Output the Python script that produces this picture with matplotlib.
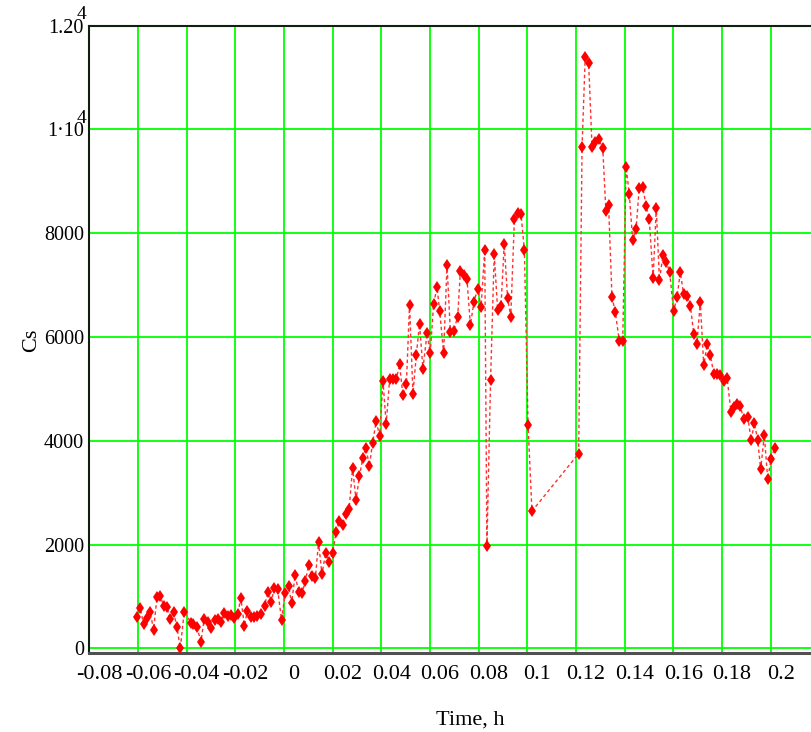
" Cs versus time, Mathcad-style scatter with dotted connecting line "
import matplotlib
matplotlib.use("Agg")
import matplotlib.pyplot as plt
import matplotlib.transforms as mtransforms

plt.rcParams.update({'font.size': 16,
                     'font.family': ['Liberation Serif', 'DejaVu Serif']})

# time, h
time_h = [-0.0604, -0.0591, -0.0577, -0.0563, -0.0550, -0.0536, -0.0522, -0.0508,
          -0.0495, -0.0481, -0.0467, -0.0454, -0.0440, -0.0426, -0.0410, -0.0382,
          -0.0372, -0.0358, -0.0341, -0.0328, -0.0314, -0.0300, -0.0285, -0.0273,
          -0.0259, -0.0245, -0.0232, -0.0218, -0.0204, -0.0191, -0.0177, -0.0163,
          -0.0150, -0.0136, -0.0122, -0.0109, -0.0095, -0.0080, -0.0067, -0.0053,
          -0.0039, -0.0026, -0.0010, 0.0005, 0.0019, 0.0031, 0.0046, 0.0060,
          0.0074, 0.0088, 0.0101, 0.0115, 0.0129, 0.0142, 0.0156, 0.0171,
          0.0186, 0.0200, 0.0214, 0.0227, 0.0241, 0.0255, 0.0268, 0.0282,
          0.0296, 0.0310, 0.0324, 0.0337, 0.0351, 0.0364, 0.0379, 0.0393,
          0.0407, 0.0420, 0.0434, 0.0448, 0.0462, 0.0475, 0.0489, 0.0503,
          0.0516, 0.0530, 0.0544, 0.0557, 0.0571, 0.0588, 0.0601, 0.0615,
          0.0629, 0.0640, 0.0656, 0.0670, 0.0684, 0.0697, 0.0714, 0.0725,
          0.0738, 0.0752, 0.0766, 0.0781, 0.0796, 0.0810, 0.0825, 0.0834,
          0.0849, 0.0864, 0.0878, 0.0892, 0.0905, 0.0919, 0.0932, 0.0947,
          0.0960, 0.0974, 0.0988, 0.1003, 0.1019, 0.1211, 0.1225, 0.1238,
          0.1252, 0.1266, 0.1279, 0.1293, 0.1310, 0.1323, 0.1334, 0.1348,
          0.1362, 0.1378, 0.1392, 0.1406, 0.1419, 0.1433, 0.1447, 0.1460,
          0.1474, 0.1489, 0.1501, 0.1517, 0.1530, 0.1543, 0.1558, 0.1571,
          0.1585, 0.1601, 0.1615, 0.1629, 0.1642, 0.1656, 0.1670, 0.1684,
          0.1697, 0.1711, 0.1725, 0.1739, 0.1752, 0.1766, 0.1780, 0.1793,
          0.1807, 0.1821, 0.1837, 0.1848, 0.1862, 0.1875, 0.1889, 0.1906,
          0.1920, 0.1933, 0.1947, 0.1959, 0.1974, 0.1988, 0.2002, 0.2016]

cs = [600, 785, 465, 581, 708, 356, 985, 1010,
      823, 804, 567, 708, 408, 0, 708, 496,
      465, 408, 131, 567, 515, 388, 548, 567,
      515, 677, 631, 650, 592, 663, 965, 438,
      727, 612, 612, 625, 663, 817, 1081, 900,
      1158, 1138, 548, 1062, 1202, 869, 1413, 1092,
      1062, 1298, 1606, 1394, 1356, 2048, 1427, 1831,
      1673, 1842, 2240, 2458, 2375, 2587, 2696, 3481,
      2865, 3317, 3669, 3862, 3510, 3961, 4375, 4096,
      5150, 4317, 5183, 5183, 5196, 5471, 4875, 5086,
      6625, 4908, 5663, 6254, 5388, 6073, 5688, 6638,
      6958, 6496, 5688, 7388, 6092, 6111, 6394, 7279,
      7202, 7119, 6231, 6683, 6927, 6573, 7683, 1971,
      5177, 7600, 6523, 6606, 7792, 6746, 6394, 8273,
      8381, 8369, 7677, 4311, 2644, 3754, 9663, 11400,
      11284, 9663, 9765, 9811, 9638, 8432, 8548, 6765,
      6477, 5919, 5919, 9278, 8753, 7869, 8080, 8880,
      8894, 8515, 8273, 7138, 8484, 7100, 7586, 7438,
      7259, 6496, 6765, 7246, 6831, 6798, 6606, 6061,
      5869, 6669, 5452, 5856, 5663, 5292, 5279, 5259,
      5150, 5215, 4554, 4650, 4715, 4669, 4427, 4458,
      4010, 4342, 4010, 3452, 4106, 3260, 3658, 3862]

x_ticks = [-0.08, -0.06, -0.04, -0.02, 0, 0.02, 0.04, 0.06, 0.08, 0.1,
           0.12, 0.14, 0.16, 0.18, 0.2, 0.22]
x_labels = ["-0.08", "-0.06", "-0.04", "-0.02", "0", "0.02", "0.04", "0.06",
            "0.08", "0.1", "0.12", "0.14", "0.16", "0.18", "0.2", ""]
y_ticks = [0, 2000, 4000, 6000, 8000, 10000, 12000]
y_labels = ["0", "2000", "4000", "6000", "8000", "1\u00b710", "1.20"]

fig = plt.figure(figsize=(8.12, 7.32), dpi=100)
ax = fig.add_axes([0.110, 0.108, 0.899, 0.857])

ax.plot(time_h, cs, color="#ff3030", linestyle=(0, (2.5, 2)), linewidth=1.0,
        zorder=3)
ax.plot(time_h, cs, linestyle="none", marker="d", markersize=6,
        color="#ff0000", markeredgewidth=0, zorder=4)

ax.set_xlim(-0.08, 0.22)
ax.set_ylim(-87, 12000)
ax.set_xticks(x_ticks)
ax.set_xticklabels(x_labels)
ax.set_yticks(y_ticks)
ax.set_yticklabels(y_labels, fontsize=14.5)
ax.tick_params(length=0, pad=9)
ax.tick_params(axis="y", pad=4)
ax.grid(True, color="#00ff00", linewidth=1.3, zorder=1)
ax.set_axisbelow(True)

# Mathcad puts its labels a bit to the right of the grid line
shift = mtransforms.ScaledTranslation(10/100, 0, fig.dpi_scale_trans)
for lbl in ax.get_xticklabels():
    lbl.set_transform(lbl.get_transform() + shift)

# exponent "4" drawn above the last two tick labels
for yv in [10000, 12000]:
    ax.annotate("4", xy=(0, yv), xycoords=("axes fraction", "data"),
                xytext=(-5.5, 8), textcoords="offset points",
                ha="center", va="center", fontsize=14)

for side in ["top", "left"]:
    ax.spines[side].set_color("#102010")
    ax.spines[side].set_linewidth(1.5)
ax.spines["bottom"].set_color("#505050")
ax.spines["bottom"].set_linewidth(2.2)
ax.spines["right"].set_visible(False)

fig.text(0.039, 0.535, "Cs", rotation=90, ha="center", va="center")
fig.text(0.579, 0.016, "Time, h", ha="center", va="center")

fig.savefig("out.png", dpi=100)
